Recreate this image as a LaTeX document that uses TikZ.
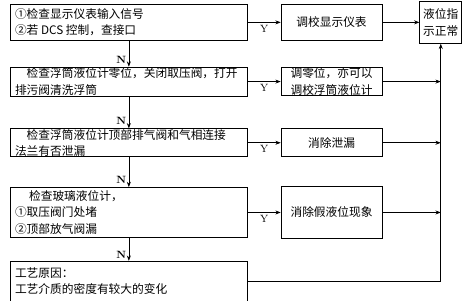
\documentclass[tikz,border=0pt]{standalone}
\usepackage{fontspec}
\usetikzlibrary{arrows.meta, positioning}
\newfontfamily\cjk{Noto Sans CJK SC}
\newcommand\cjkfont{\cjk\fontsize{10}{14}\selectfont\lineskiplimit=-20pt\relax}
% fixed-size text boxes: height, width, text
\newcommand\chktext[2]{\parbox[c][#1][c]{6.83cm}{\raggedright #2}}
\newcommand\fixtext[3]{\parbox[c][#1][c]{#2}{\centering #3}}
\tikzset{
  box/.style={rectangle, draw, line width=0.6pt, font=\cjkfont,
    inner xsep=0.14cm, inner ysep=0pt},
  fixbox/.style={rectangle, draw, line width=0.6pt, font=\cjkfont, inner sep=0pt},
  arrow/.style={-{Stealth[length=1.6mm, width=1.2mm]}, line width=0.6pt},
  nlabel/.style={font=\small\bfseries, left, inner sep=2pt},
  ylabel/.style={font=\small, below, inner sep=2pt},
}
\begin{document}
\begin{tikzpicture}[x=0.03cm, y=-0.03cm]
\useasboundingbox (0,0) rectangle (464,301);
% checks on the left
\node[box, anchor=north west] (chk1) at (10,4)
  {\chktext{1.08cm}{①检查显示仪表输入信号\\②若 DCS 控制，查接口}};
\node[box, below=0.78cm of chk1] (chk2)
  {\chktext{0.87cm}{\hspace*{1em}检查浮筒液位计零位，关闭取压阀，打开\\排污阀清洗浮筒}};
\node[box, below=0.96cm of chk2] (chk3)
  {\chktext{0.84cm}{\hspace*{1em}检查浮筒液位计顶部排气阀和气相连接\\法兰有否泄漏}};
\node[box, below=0.9cm of chk3] (chk4)
  {\chktext{1.5cm}{\hspace*{1.2em}检查玻璃液位计，\\①取压阀门处堵\\②顶部放气阀漏}};
\node[box, below=0.69cm of chk4] (cause)
  {\chktext{1.2cm}{工艺原因：\\工艺介质的密度有较大的变化}};
% remedies
\node[fixbox, right=0.99cm of chk1] (fix1) {\fixtext{1.08cm}{3.03cm}{调校显示仪表}};
\node[fixbox, right=0.99cm of chk2] (fix2) {\fixtext{0.84cm}{3.03cm}{调零位，亦可以\\调校浮筒液位计}};
\node[fixbox, right=0.99cm of chk3] (fix3) {\fixtext{0.84cm}{3.03cm}{消除泄漏}};
\node[fixbox, right=0.99cm of chk4] (fix4) {\fixtext{1.56cm}{3.03cm}{消除假液位现象}};
\node[fixbox, right=1.11cm of fix1] (ok) {\fixtext{1.26cm}{1.26cm}{液位指\\示正常}};
% N branch
\draw[arrow] (chk1) -- node[nlabel, pos=0.75]{N} (chk2);
\draw[arrow] (chk2) -- node[nlabel, pos=0.75]{N} (chk3);
\draw[arrow] (chk3) -- node[nlabel, pos=0.75]{N} (chk4);
\draw[arrow] (chk4) -- node[nlabel, pos=0.75]{N} (cause);
% Y branch
\foreach \i in {1,...,4}{
  \draw[arrow] (fix\i.west -| chk\i.east) -- node[ylabel]{Y} (fix\i.west);
}
\foreach \i in {2,3,4}{
  \draw[arrow] (fix\i.east) -- (fix\i.east -| ok.south);
}
\draw[arrow] (cause.east) -| (ok.south);
\draw[arrow] (fix1) -- (ok);
\end{tikzpicture}
\end{document}
